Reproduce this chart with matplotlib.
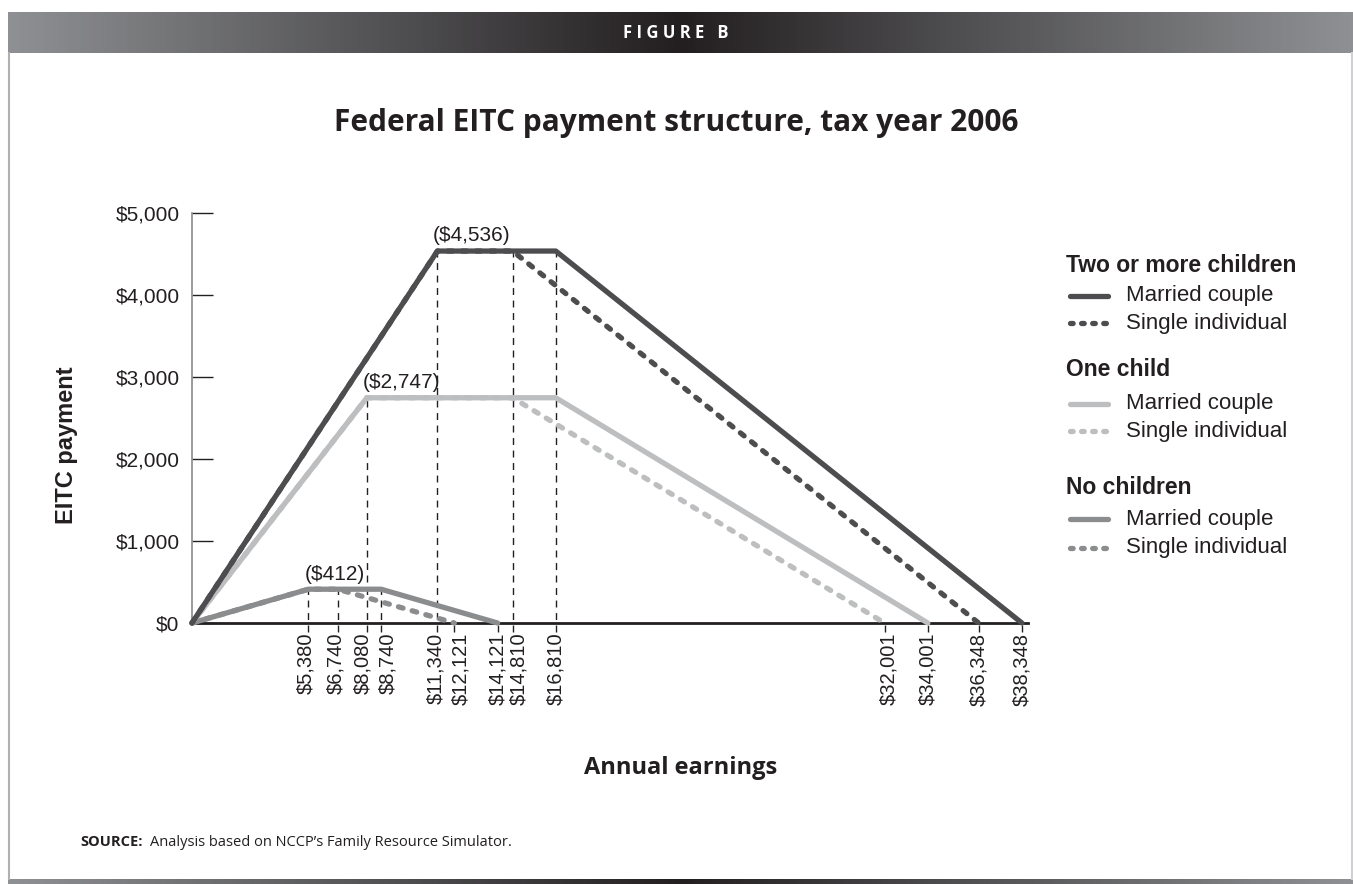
import matplotlib
matplotlib.use("Agg")
import matplotlib.pyplot as plt
import numpy as np

# EITC schedule breakpoints (earnings, payment)
two_married_x = [0, 11340, 16810, 38348]
two_married_y = [0, 4536, 4536, 0]
two_single_x = [0, 11340, 14810, 36348]
two_single_y = [0, 4536, 4536, 0]
one_married_x = [0, 8080, 16810, 34001]
one_married_y = [0, 2747, 2747, 0]
one_single_x = [0, 8080, 14810, 32001]
one_single_y = [0, 2747, 2747, 0]
none_married_x = [0, 5380, 8740, 14121]
none_married_y = [0, 412, 412, 0]
none_single_x = [0, 5380, 6740, 12121]
none_single_y = [0, 412, 412, 0]

# guide lines: (earnings, height reached)
guide_x = [5380, 6740, 8080, 8740, 11340, 12121, 14121, 14810, 16810,
           32001, 34001, 36348, 38348]
guide_top = [412, 412, 2747, 412, 4536, 0, 0, 4536, 4536, 0, 0, 0, 0]

y_ticks = [0, 1000, 2000, 3000, 4000, 5000]
# maximum credit and the earnings where it is first reached
peaks = [(4536, 11340), (2747, 8080), (412, 5380)]

# small sideways nudges (px) so crowded earnings labels don't collide
label_nudge = [-3, -2, -4, 7, -2, 6, 0, 6, 0, 4, 0, 0, 0]

DARK = "#4d4d4f"
LIGHT = "#bdbec0"
MID = "#8b8c8e"
INK = "#231f20"
LW = 3.8
DOT = (0, (0.9, 1.8))
SANS = "Liberation Sans"

W, H = 1353, 884
fig = plt.figure(figsize=(W / 100, H / 100), dpi=100)

# frame / header band
bg = fig.add_axes([0, 0, 1, 1])
bg.set_xlim(0, W)
bg.set_ylim(H, 0)
bg.axis("off")
grad = np.abs(np.linspace(-1, 1, 400))
cmap = matplotlib.colors.LinearSegmentedColormap.from_list("g", ["#231f20", "#58585a", "#8f9093"])
bg.imshow(grad[None, :], cmap=cmap, aspect="auto", extent=[8, W, 53, 12], vmin=0, vmax=1)
bg.imshow(grad[None, :], cmap=cmap, aspect="auto", extent=[8, W, 884, 879], vmin=0, vmax=1)
bg.plot([8.5, 8.5], [53, 879], color="#b0b0b2", lw=1.5)
bg.plot([1351.5, 1351.5], [53, 879], color="#d0d0d2", lw=1.5)
bg.text(676, 33, "F I G U R E   B", color="white", fontsize=12, fontweight="bold",
        family="Open Sans", ha="center", va="center")
bg.text(676, 123, "Federal EITC payment structure, tax year 2006", fontsize=21.5,
        fontweight="bold", family="Open Sans", ha="center", va="center", color=INK)
bg.text(681, 768, "Annual earnings", fontsize=17, fontweight="bold", family="Open Sans",
        ha="center", va="center", color=INK)
bg.text(80, 842, "SOURCE:", fontsize=10.5, fontweight="bold", family="Open Sans",
        ha="left", va="center", color=INK)
bg.text(150, 842, "Analysis based on NCCP\u2019s Family Resource Simulator.", fontsize=10.5,
        family="Open Sans", ha="left", va="center", color=INK)
bg.text(66, 445, "EITC payment", fontsize=17, fontweight="bold", family=SANS,
        rotation=90, ha="center", va="center", color=INK)

ax = fig.add_axes([192 / W, 1 - 623 / H, (1028 - 192) / W, (623 - 213) / H])
ax.set_xlim(0, 38630)
ax.set_ylim(0, 5000)
for s in ["top", "right"]:
    ax.spines[s].set_visible(False)
ax.spines["left"].set_color("#8a8a8a")
ax.spines["left"].set_linewidth(1.2)
ax.spines["bottom"].set_color(INK)
ax.spines["bottom"].set_linewidth(2)

for gx, gt in zip(guide_x, guide_top):
    ax.plot([gx, gx], [-110, gt], color=INK, lw=1, ls=(0, (5, 4)), clip_on=False, zorder=1)

series = [
    (two_married_x, two_married_y, DARK, "-"),
    (two_single_x, two_single_y, DARK, DOT),
    (one_married_x, one_married_y, LIGHT, "-"),
    (one_single_x, one_single_y, LIGHT, DOT),
    (none_married_x, none_married_y, MID, "-"),
    (none_single_x, none_single_y, MID, DOT),
]
for xs, ys, c, ls in series[::-1]:
    ax.plot(xs, ys, color=c, lw=LW, ls=ls, solid_capstyle="round", dash_capstyle="round",
            solid_joinstyle="round", clip_on=False, zorder=3)

for val, xpos in peaks:
    ax.annotate(f"(${val:,})", xy=(xpos, val), xytext=(-3, 4), textcoords="offset points",
                fontsize=15, family=SANS, ha="left", va="bottom", color=INK)

ax.set_yticks(y_ticks)
ax.set_yticklabels([f"${v:,}" for v in y_ticks], fontsize=15, family=SANS, color=INK)
ax.tick_params(axis="y", direction="in", length=15, width=1, color=INK, pad=9)
ax.set_xticks([])
for gx, dx in zip(guide_x, label_nudge):
    ax.annotate(f"${gx:,}", xy=(gx, 0), xycoords=("data", "axes fraction"),
                xytext=(dx * 0.72, -7), textcoords="offset points", rotation=90,
                ha="center", va="top", fontsize=14.5, family=SANS, color=INK)

# legend
groups = [("Two or more children", DARK, 266, 296, 323),
          ("One child", LIGHT, 369, 404, 431),
          ("No children", MID, 487, 519, 548)]
for title, c, ty, y1, y2 in groups:
    bg.text(1066, ty, title, fontsize=16.5, fontweight="bold", family=SANS,
            ha="left", va="center", color=INK)
    bg.plot([1070, 1108], [y1, y1], color=c, lw=LW, solid_capstyle="round")
    bg.plot([1070, 1108], [y2, y2], color=c, lw=LW, ls=(0, (0.5, 1.6)), dash_capstyle="round")
    bg.text(1126, y1, "Married couple", fontsize=16, family=SANS,
            ha="left", va="center", color=INK)
    bg.text(1126, y2, "Single individual", fontsize=16, family=SANS,
            ha="left", va="center", color=INK)

fig.savefig("out.png", dpi=100)
